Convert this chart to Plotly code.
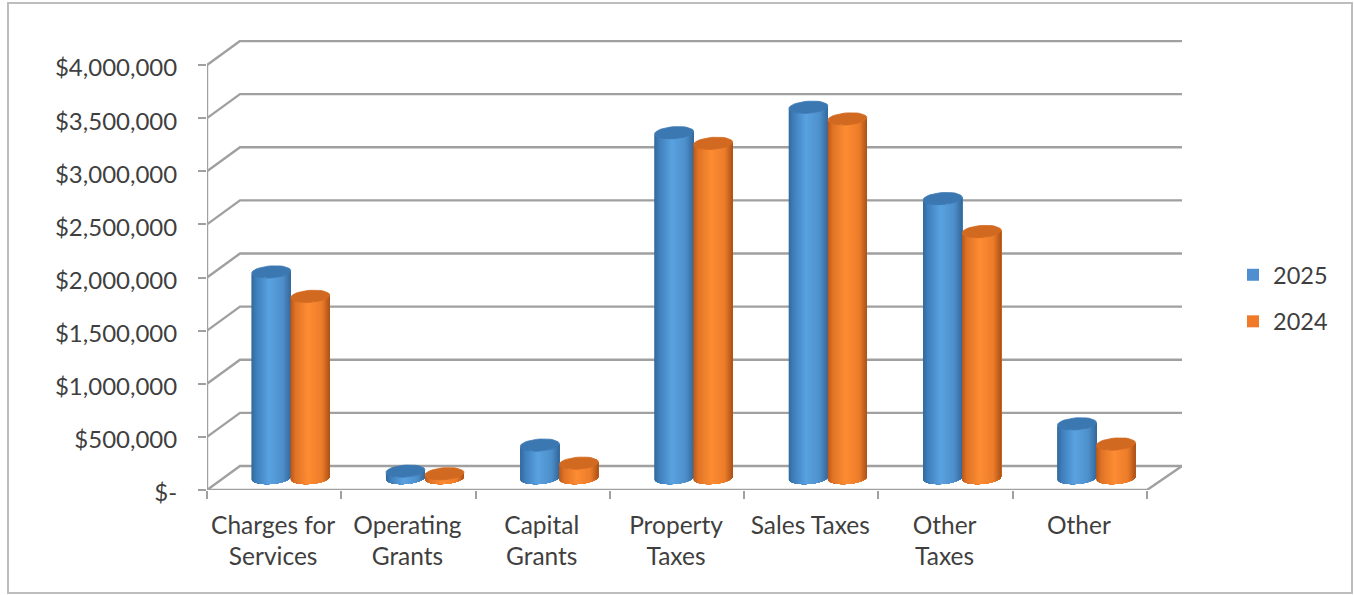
import math
import plotly.graph_objects as go

# Revenue by source, in dollars
categories = ["Charges for<br>Services", "Operating<br>Grants", "Capital<br>Grants",
              "Property<br>Taxes", "Sales Taxes", "Other<br>Taxes", "Other"]
values_2025 = [1940000, 65000, 310000, 3250000, 3490000, 2630000, 510000]
values_2024 = [1710000, 40000, 140000, 3150000, 3380000, 2320000, 320000]
y_ticks = [0, 500000, 1000000, 1500000, 2000000, 2500000, 3000000, 3500000, 4000000]
y_labels = ["$-", "$500,000", "$1,000,000", "$1,500,000", "$2,000,000",
            "$2,500,000", "$3,000,000", "$3,500,000", "$4,000,000"]

# Canvas and pseudo-3D geometry, in pixels
W, H = 1354, 595
LEFT, FRONT_Y, TOP = 207, 490, 40
BACK_RIGHT = 1182
PX_PER_CAT = 134.29
PX_PER_MILLION = 106.25
DEPTH_X, DEPTH_Y = 33, 24
RADIUS, MINOR, TILT = 19.5, 6.0, 0.07
STRIPS = 40

X_PER_PX = 1 / PX_PER_CAT
Y_PER_PX = 1e6 / PX_PER_MILLION
depth_x = DEPTH_X * X_PER_PX
depth_y = DEPTH_Y * Y_PER_PX
x_min = -0.5
x_max = x_min + (BACK_RIGHT - LEFT) * X_PER_PX
y_max = (FRONT_Y - TOP) * Y_PER_PX
x_front_end = x_min + len(categories)

GRID = "#a0a0a0"
TEXT = "#3f3f3f"
BLUE_RAMP = [(0, "#35699c"), (0.12, "#3f7fbc"), (0.45, "#5aa2e0"), (0.8, "#4d8fca"), (1, "#35699c")]
ORANGE_RAMP = [(0, "#b9581c"), (0.12, "#df7326"), (0.45, "#fd8c33"), (0.8, "#ec7d2a"), (1, "#ad5219")]
BLUE_CAP, ORANGE_CAP = "#3b78b2", "#d26921"


def ramp_colour(ramp, u):
    for (u0, c0), (u1, c1) in zip(ramp, ramp[1:]):
        if u <= u1:
            t = (u - u0) / (u1 - u0)
            rgb = [round(int(c0[i:i + 2], 16) * (1 - t) + int(c1[i:i + 2], 16) * t) for i in (1, 3, 5)]
            return "rgb({},{},{})".format(*rgb)
    return ramp[-1][1]


def rim(centre, level, theta):
    """Point on a tilted ellipse around (centre, level), theta measured in the screen plane."""
    dx = RADIUS * math.cos(theta)
    dy = MINOR * math.sin(theta) - TILT * dx
    return centre + dx * X_PER_PX, level - dy * Y_PER_PX


fig = go.Figure()

# Back wall, side wall and floor
gx, gy = [], []
for v in y_ticks:
    gx += [x_min, x_min + depth_x, x_max, None]
    gy += [v, v + depth_y, v + depth_y, None]
gx += [x_min, x_front_end, x_max, None, x_min, x_min]
gy += [0, 0, depth_y, None, 0, y_ticks[-1]]
fig.add_trace(go.Scatter(x=gx, y=gy, mode="lines", line=dict(color=GRID, width=2.4),
                         hoverinfo="skip", showlegend=False))


def add_cylinders(values, offset_px, ramp, cap_colour):
    base = depth_y / 2
    centres = [i + depth_x / 2 + offset_px * X_PER_PX for i in range(len(values))]
    # Strips are painted left to right, each running to the cylinder's right edge,
    # so neighbouring shades overlap and leave no seams.
    for s in range(STRIPS):
        t0 = math.pi * (1 - s / STRIPS)
        arc = [t0 * (1 - k / 24) for k in range(25)]
        xs, ys = [], []
        for c, v in zip(centres, values):
            top = v + base
            for lvl, seq in ((top, arc), (base, arc[::-1])):
                for t in seq:
                    px, py = rim(c, lvl, t)
                    xs.append(px)
                    ys.append(py)
            xs.append(None)
            ys.append(None)
        u = (math.cos(t0 - math.pi / STRIPS / 2) + 1) / 2
        fig.add_trace(go.Scatter(x=xs, y=ys, mode="none", fill="toself",
                                 fillcolor=ramp_colour(ramp, u),
                                 hoverinfo="skip", showlegend=False))
    # Top caps
    xs, ys = [], []
    for c, v in zip(centres, values):
        for k in range(37):
            px, py = rim(c, v + base, 2 * math.pi * k / 36)
            xs.append(px)
            ys.append(py)
        xs.append(None)
        ys.append(None)
    fig.add_trace(go.Scatter(x=xs, y=ys, mode="lines", fill="toself", fillcolor=cap_colour,
                             line=dict(color=cap_colour, width=0.8), hoverinfo="skip", showlegend=False))


add_cylinders(values_2025, -RADIUS, BLUE_RAMP, BLUE_CAP)
add_cylinders(values_2024, RADIUS, ORANGE_RAMP, ORANGE_CAP)

# Legend entries
for name, colour in (("2025", "#4f8fcf"), ("2024", "#f07a2a")):
    fig.add_trace(go.Scatter(x=[None], y=[None], mode="markers", name=name, legendgroup=name,
                             marker=dict(symbol="square", size=16, color=colour)))

fig.update_layout(
    width=W, height=H,
    margin=dict(l=LEFT, r=W - BACK_RIGHT, t=TOP, b=H - FRONT_Y, pad=0),
    paper_bgcolor="white", plot_bgcolor="white",
    font=dict(family="Lato, sans-serif", color=TEXT),
    xaxis=dict(range=[x_min, x_max], showgrid=False, zeroline=False, showline=False,
               tickmode="array", tickvals=list(range(len(categories))), ticktext=categories,
               ticks="", tickfont=dict(size=24.5, color=TEXT), ticklabelstandoff=18, ticklabelshift=-1,
               minor=dict(tickmode="array", tickvals=[x_min + i for i in range(len(categories) + 1)],
                          ticks="outside", ticklen=8, tickwidth=1.5, tickcolor=GRID)),
    yaxis=dict(range=[0, y_max], showgrid=False, zeroline=False, showline=False,
               tickmode="array", tickvals=y_ticks, ticktext=y_labels,
               ticks="outside", ticklen=8, tickwidth=1.5, tickcolor=GRID,
               tickfont=dict(size=24, color=TEXT), ticklabelstandoff=16, ticklabelshift=3),
    legend=dict(x=(1233 - LEFT) / (BACK_RIGHT - LEFT), xanchor="left",
                y=(FRONT_Y - 253) / (FRONT_Y - TOP), yanchor="top",
                tracegroupgap=13, font=dict(size=23.5, color=TEXT), bgcolor="rgba(0,0,0,0)",
                itemsizing="constant"),
    shapes=[dict(type="rect", xref="paper", yref="paper",
                 x0=(8 - LEFT) / (BACK_RIGHT - LEFT), x1=(1352 - LEFT) / (BACK_RIGHT - LEFT),
                 y0=(FRONT_Y - 593) / (FRONT_Y - TOP), y1=(FRONT_Y - 3) / (FRONT_Y - TOP),
                 line=dict(color="#bdbdbd", width=2), layer="below")],
)

fig.write_html("out.html", config={"displayModeBar": False})
